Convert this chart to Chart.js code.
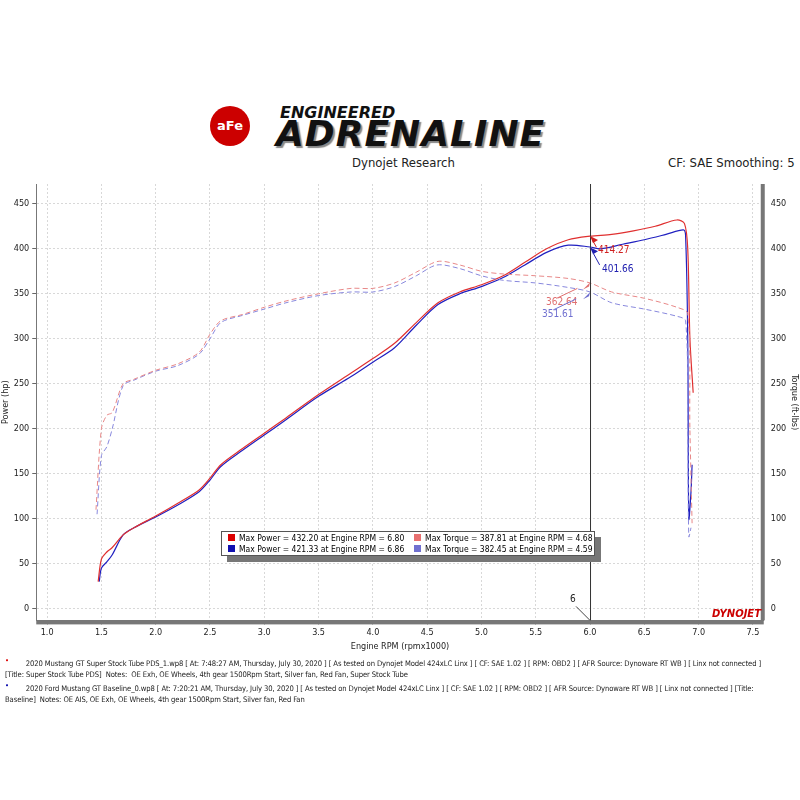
<!DOCTYPE html>
<html><head><meta charset="utf-8">
<script src="https://cdn.jsdelivr.net/npm/chart.js@4"></script>
<style>
body{margin:0;background:#fff;font-family:"DejaVu Sans Condensed","Liberation Sans",sans-serif;}
#wrap{position:relative;width:800px;height:800px;}
.t{position:absolute;white-space:nowrap;color:#222;}
#legend{position:absolute;left:221px;top:531px;width:360px;height:21px;border:1px solid #555;background:#fff;font-size:8.5px;padding:1px 6px;box-shadow:6px 6px 0 #777;line-height:11px;white-space:nowrap;}
#legend span.s{display:inline-block;width:7px;height:7px;margin-right:4px;}
.foot{font-size:7.6px;color:#222;position:absolute;left:5px;line-height:11px;white-space:nowrap;letter-spacing:-0.1px;}
</style></head><body>
<div id="wrap">
<div class="t" style="left:210px;top:106px;width:40px;height:40px;border-radius:50%;background:#c00;color:#fff;font:bold 13px 'DejaVu Sans';text-align:center;line-height:40px;">aFe</div>
<div class="t" style="left:280px;top:103px;font:italic bold 16px 'DejaVu Sans';color:#111;">ENGINEERED</div>
<div class="t" style="left:276px;top:113px;font:italic 900 36px 'DejaVu Sans';color:#111;letter-spacing:1px;text-shadow:2px 2px 1px #888;">ADRENALINE</div>
<div class="t" style="left:352px;top:155px;font-size:13px;">Dynojet Research</div>
<div class="t" style="left:668px;top:155px;font-size:13px;">CF: SAE Smoothing: 5</div>
<canvas id="c" width="800" height="800" style="position:absolute;left:0;top:0"></canvas>
<div id="legend">
<div><span class="s" style="background:#d00"></span>Max Power = 432.20 at Engine RPM = 6.80&nbsp;&nbsp;&nbsp;&nbsp;<span class="s" style="background:#e87070"></span>Max Torque = 387.81 at Engine RPM = 4.68</div>
<div><span class="s" style="background:#1010b0"></span>Max Power = 421.33 at Engine RPM = 6.86&nbsp;&nbsp;&nbsp;&nbsp;<span class="s" style="background:#7070d0"></span>Max Torque = 382.45 at Engine RPM = 4.59</div>
</div>
<div class="foot" style="top:655px;color:#d00">•</div>
<div class="foot" style="top:658px;">&nbsp;&nbsp;&nbsp;&nbsp;&nbsp;&nbsp;&nbsp;&nbsp;&nbsp;&nbsp;2020 Mustang GT Super Stock Tube PDS_1.wp8 [ At: 7:48:27 AM, Thursday, July 30, 2020 ] [ As tested on Dynojet Model 424xLC Linx ] [ CF: SAE 1.02 ] [ RPM: OBD2 ] [ AFR Source: Dynoware RT WB ] [ Linx not connected ]<br>[Title: Super Stock Tube PDS]&nbsp; Notes:&nbsp; OE Exh, OE Wheels, 4th gear 1500Rpm Start, Silver fan, Red Fan, Super Stock Tube</div>
<div class="foot" style="top:680px;color:#00a">•</div>
<div class="foot" style="top:683px;">&nbsp;&nbsp;&nbsp;&nbsp;&nbsp;&nbsp;&nbsp;&nbsp;&nbsp;&nbsp;2020 Ford Mustang GT Baseline_0.wp8 [ At: 7:20:21 AM, Thursday, July 30, 2020 ] [ As tested on Dynojet Model 424xLC Linx ] [ CF: SAE 1.02 ] [ RPM: OBD2 ] [ AFR Source: Dynoware RT WB ] [ Linx not connected ] [Title:<br>Baseline]&nbsp; Notes: OE AIS, OE Exh, OE Wheels, 4th gear 1500Rpm Start, Silver fan, Red Fan</div>
<div class="t" style="left:712px;top:608px;font:italic 900 10px 'DejaVu Sans';color:#c00;">DYNOJET</div>
</div>
<script>
const rpmPowerA=[1.47,1.5,1.55,1.6,1.7,1.8,2.0,2.2,2.4,2.5,2.6,2.8,3.0,3.2,3.5,3.8,4.0,4.2,4.4,4.6,4.8,5.0,5.2,5.4,5.6,5.8,6.0,6.2,6.4,6.6,6.8,6.87,6.9,6.92,6.95];
const powerA=[30,55,63,68,82,90,103,117,132,145,160,178,195,212,238,262,278,295,318,340,352,360,370,385,400,410,414,416,420,425,432,428,400,300,240];
const rpmPowerB=[1.48,1.5,1.55,1.6,1.7,1.8,2.0,2.2,2.4,2.5,2.6,2.8,3.0,3.2,3.5,3.8,4.0,4.2,4.4,4.6,4.8,5.0,5.2,5.4,5.6,5.8,6.0,6.1,6.3,6.5,6.7,6.86,6.88,6.9,6.91,6.93,6.94];
const powerB=[30,45,52,60,82,90,102,115,130,143,158,176,193,210,236,258,274,290,315,338,350,358,368,382,396,404,402,400,405,410,416,421,415,300,100,130,160];
const rpmTorqueA=[1.45,1.5,1.55,1.6,1.7,1.8,2.0,2.2,2.4,2.5,2.6,2.8,3.0,3.2,3.5,3.8,4.0,4.2,4.4,4.6,4.8,5.0,5.2,5.5,5.8,6.0,6.2,6.5,6.8,6.9,6.92,6.94];
const torqueA=[110,200,215,218,250,255,265,272,285,305,320,327,335,342,350,356,356,362,374,386,382,375,372,370,367,362,352,345,335,328,200,95];
const rpmTorqueB=[1.46,1.5,1.55,1.6,1.7,1.8,2.0,2.2,2.4,2.5,2.6,2.8,3.0,3.2,3.5,3.8,4.0,4.2,4.4,4.59,4.8,5.0,5.2,5.5,5.8,6.0,6.2,6.5,6.8,6.88,6.9,6.91,6.93];
const torqueB=[105,170,180,200,248,254,264,270,283,300,318,326,333,340,348,352,352,358,370,382,378,370,365,362,357,352,340,333,325,320,200,80,90];
const xTicks=[1.0,1.5,2.0,2.5,3.0,3.5,4.0,4.5,5.0,5.5,6.0,6.5,7.0,7.5];
const yTicks=[0,50,100,150,200,250,300,350,400,450];
const marks=[{x:6.0,y:414.27,t:'414.27',c:'#d02020',dx:8,dy:14},{x:6.0,y:401.66,t:'401.66',c:'#2020b0',dx:12,dy:22},{x:6.0,y:362.64,t:'362.64',c:'#e07070',dx:-42,dy:20},{x:6.0,y:351.61,t:'351.61',c:'#7070d0',dx:-46,dy:22}];
const mk=(xs,ys)=>xs.map((x,i)=>({x,y:ys[i]}));
const overlay={id:'ov',afterDatasetsDraw(ch){const {ctx,scales:{x,y},chartArea:a}=ch;ctx.save();
 ctx.strokeStyle='#333';ctx.lineWidth=1;ctx.beginPath();ctx.moveTo(x.getPixelForValue(6)+.5,a.top);ctx.lineTo(x.getPixelForValue(6)+.5,a.bottom);ctx.stroke();
 ctx.font='10px "DejaVu Sans Condensed"';
 marks.forEach(m=>{const px=x.getPixelForValue(m.x),py=y.getPixelForValue(m.y);ctx.fillStyle=m.c;ctx.strokeStyle=m.c;
  ctx.beginPath();ctx.moveTo(px+m.dx*0.3,py+m.dy*0.3);ctx.lineTo(px+m.dx*0.8,py+m.dy*0.8);ctx.stroke();
  ctx.beginPath();ctx.moveTo(px,py);ctx.lineTo(px+(m.dx>0?3:-7),py+7);ctx.lineTo(px+(m.dx>0?8:-1),py+4);ctx.fill();
  ctx.fillText(m.t,px+(m.dx>0?m.dx:m.dx-2),py+m.dy+3);});
 ctx.fillStyle='#777';ctx.fillRect(a.left,a.bottom,a.right-a.left,4);
 ctx.fillRect(a.right-3,a.top,4,a.bottom-a.top);
 ctx.fillStyle='#222';ctx.fillText('6',x.getPixelForValue(6)-20,a.bottom-18);
 ctx.strokeStyle='#444';ctx.beginPath();ctx.moveTo(x.getPixelForValue(6)-14,a.bottom-14);ctx.lineTo(x.getPixelForValue(6),a.bottom);ctx.stroke();
 ctx.restore();}};
const ds=(d,c,dash,w)=>({data:d,borderColor:c,borderWidth:w||1,borderDash:dash||[],pointRadius:0,tension:0.3,fill:false,showLine:true});
const grid={color:'#d8d8d8',tickColor:'#666',tickLength:4};
const gb={dash:[2,2]};
new Chart(document.getElementById('c'),{type:'scatter',
 data:{datasets:[ds(mk(rpmTorqueA,torqueA),'#e88888',[5,3]),ds(mk(rpmTorqueB,torqueB),'#8888dd',[5,3]),ds(mk(rpmPowerA,powerA),'#e03030',null,1.2),ds(mk(rpmPowerB,powerB),'#2020c0',null,1.2)]},
 options:{responsive:false,animation:false,layout:{padding:{left:0,right:0,top:184,bottom:148}},
  plugins:{legend:{display:false},tooltip:{enabled:false}},
  scales:{
   x:{type:'linear',min:0.9,max:7.6,afterBuildTicks:s=>{s.ticks=xTicks.map(v=>({value:v}))},
      ticks:{callback:v=>v.toFixed(1),font:{size:9,family:'DejaVu Sans Condensed'},color:'#222',maxRotation:0},
      grid:grid,border:{color:'#777',dash:[2,2]},
      title:{display:true,text:'Engine RPM (rpmx1000)',font:{size:9,family:'DejaVu Sans Condensed'},color:'#222',padding:0}},
   y:{min:-13,max:472,afterBuildTicks:s=>{s.ticks=yTicks.map(v=>({value:v}))},
      ticks:{font:{size:9,family:'DejaVu Sans Condensed'},color:'#222'},
      grid:grid,border:{color:'#777',dash:[2,2]},
      title:{display:true,text:'Power (hp)',font:{size:9,family:'DejaVu Sans Condensed'},color:'#222',padding:0}},
   y2:{position:'right',min:-13,max:472,afterBuildTicks:s=>{s.ticks=yTicks.map(v=>({value:v}))},
      ticks:{font:{size:9,family:'DejaVu Sans Condensed'},color:'#222'},
      grid:{display:false,tickColor:'#666',tickLength:4},border:{color:'#777'},
      title:{display:true,text:'Torque (ft-lbs)',font:{size:9,family:'DejaVu Sans Condensed'},color:'#222',padding:0}}
  }},plugins:[overlay]});
</script></body></html>
